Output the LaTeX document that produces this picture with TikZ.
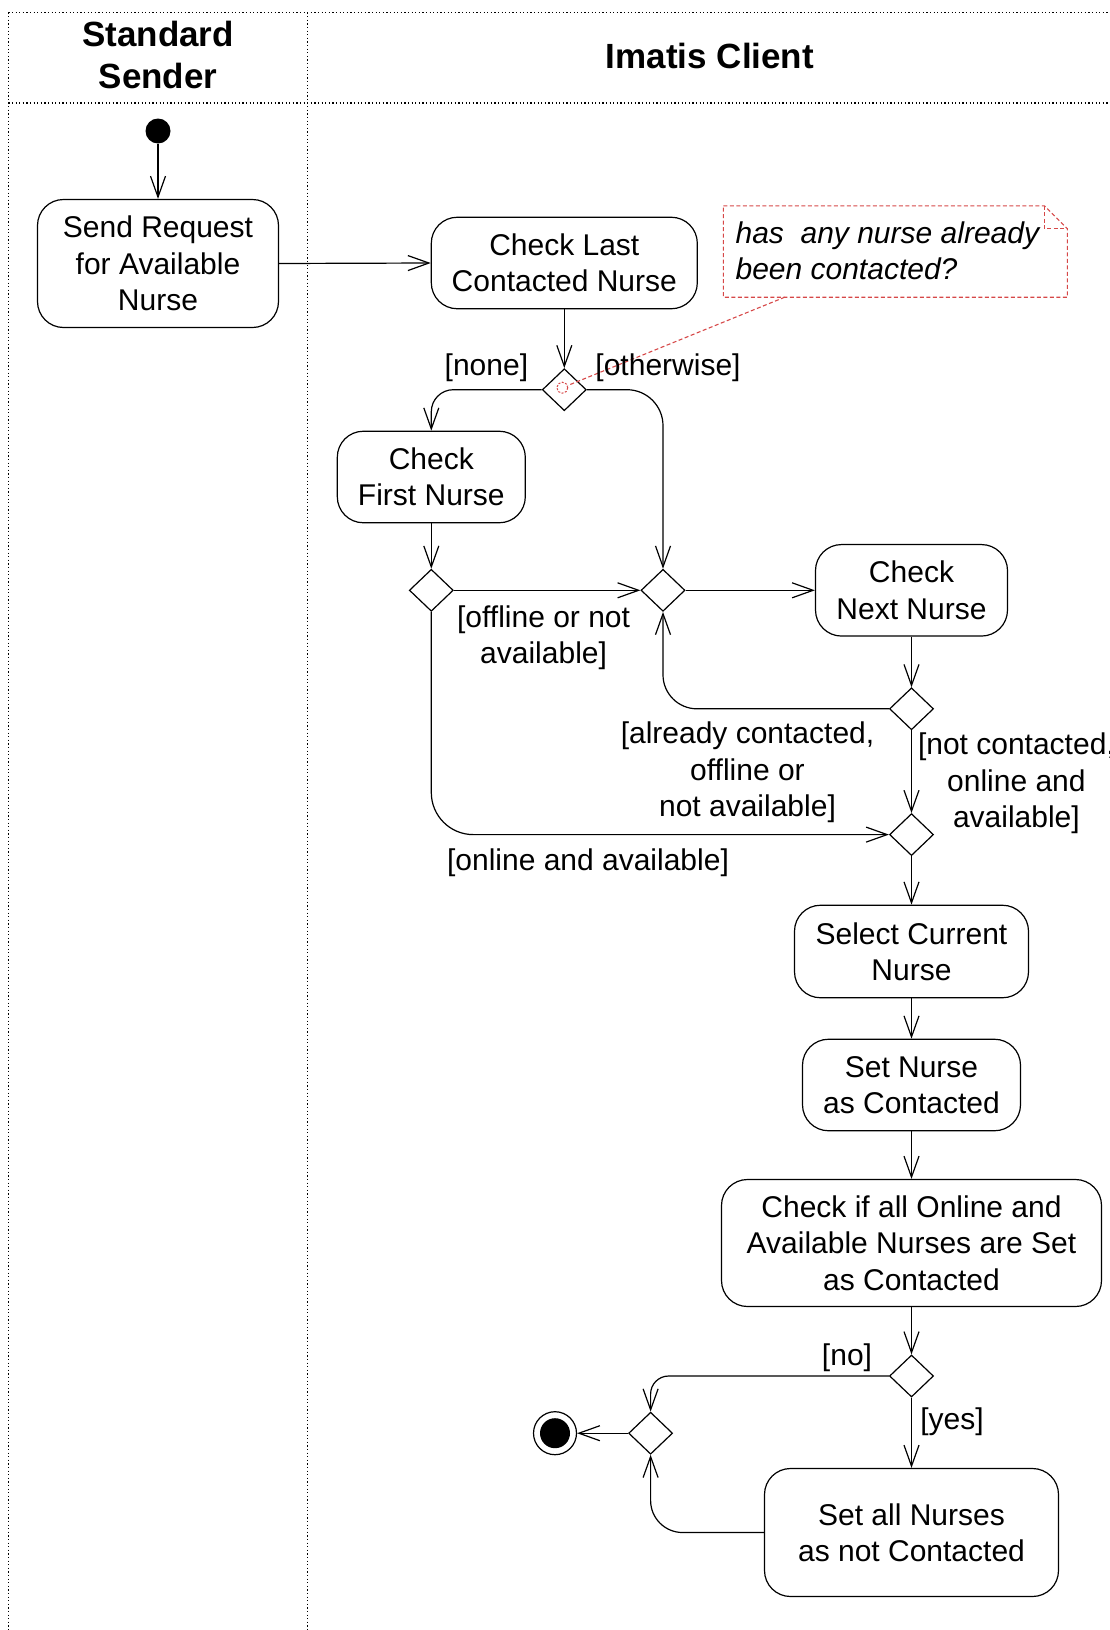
\documentclass[tikz,border=0pt]{standalone}
\usepackage{fontspec}
\setmainfont{Liberation Sans}
\usetikzlibrary{arrows.meta,shapes.geometric}
\definecolor{notered}{RGB}{214,72,72}
\tikzset{
 act/.style={draw, rounded corners=26pt, align=center, inner sep=0pt, font=\fontsize{30}{36.4}\selectfont},
 dec/.style={draw, diamond, minimum width=44pt, minimum height=42pt, inner sep=0pt},
 lbl/.style={align=center, inner sep=0pt, font=\fontsize{30}{36.4}\selectfont},
 flow/.style={-{Straight Barb[length=21pt,width=15pt]}},
 lane/.style={dash pattern=on 1.3pt off 2.3pt, line width=1.1pt},
 hdr/.style={align=center, inner sep=0pt, font=\fontsize{35}{41.6}\selectfont\bfseries},
 notestyle/.style={draw=notered, dash pattern=on 4pt off 2.5pt, line width=1.1pt}
}
\begin{document}
\begin{tikzpicture}[x=1pt,y=-1pt,line width=1.2pt]
\useasboundingbox (0,0) rectangle (1110,1630);
% swimlanes
\draw[lane] (8.3,12.5) -- (1110,12.5);
\draw[lane] (8.3,103) -- (1110,103);
\draw[lane] (8.3,12.5) -- (8.3,1630);
\draw[lane] (307.6,12.5) -- (307.6,1630);
\node[hdr] (h1) at (158,55) {Standard\\Sender};
\node[hdr] (h2) at (710,56) {Imatis Client};
% nodes
\node[circle, fill, minimum size=25pt, inner sep=0pt] (init) at (158,131) {};
\node[act, minimum width=241pt, minimum height=128pt] (send) at (158,263.5) {Send Request\\for Available\\Nurse};
\node[act, minimum width=266pt, minimum height=91.5pt] (last) at (564.3,263) {Check Last\\Contacted Nurse};
\node[dec] (d1) at (564.3,389.7) {};
\node[act, minimum width=188pt, minimum height=91.5pt] (first) at (431.3,477) {Check\\First Nurse};
\node[dec] (d2) at (431.3,590.3) {};
\node[dec] (d3) at (663,590.3) {};
\node[act, minimum width=192pt, minimum height=91.5pt] (next) at (911.5,590.3) {Check\\Next Nurse};
\node[dec] (d4) at (911.5,708.8) {};
\node[dec] (d5) at (911.5,834.6) {};
\node[act, minimum width=234pt, minimum height=92.5pt] (select) at (911.5,951.5) {Select Current\\Nurse};
\node[act, minimum width=218pt, minimum height=91.5pt] (setc) at (911.5,1085) {Set Nurse\\as Contacted};
\node[act, minimum width=380pt, minimum height=127pt] (checkall) at (911.5,1243) {Check if all Online and\\Available Nurses are Set\\as Contacted};
\node[dec] (d6) at (911.5,1376) {};
\node[act, minimum width=294pt, minimum height=128pt] (setall) at (911.5,1532.5) {Set all Nurses\\as not Contacted};
\node[dec] (d7) at (650.6,1433.2) {};
\node[circle, draw, minimum size=43pt, inner sep=0pt] (final) at (555,1433.2) {};
\fill (final.center) circle (15pt);
% note
\draw[notestyle] (723.4,205.8) -- (1044.4,205.8) -- (1067.4,228.8) -- (1067.4,297.2) -- (723.4,297.2) -- cycle;
\draw[notestyle] (1044.4,205.8) -- (1044.4,228.8) -- (1067.4,228.8);
\node[lbl, anchor=west, align=left, font=\fontsize{30}{36.4}\selectfont\itshape] (notetext) at (735,251) {has\ \ any nurse already\\been contacted?};
\node[circle, draw=notered, dash pattern=on 2pt off 1.5pt, line width=1pt, minimum size=11pt, inner sep=0pt] (ncirc) at (562.3,387.7) {};
\coordinate (noteb) at (784.7,297.2);
\draw[notestyle] (noteb) -- (ncirc);
% connectors
\draw[flow] (init) -- (send.north);
\draw[flow] (send.east) -- (last.west);
\draw[flow] (last.south) -- (d1.north);
\draw[flow, rounded corners=22pt] (d1.west) -| (first.north);
\draw[flow, rounded corners=36pt] (d1.east) -| (d3.north);
\draw[flow] (first.south) -- (d2.north);
\draw[flow] (d2.east) -- (d3.west);
\draw[flow] (d3.east) -- (next.west);
\draw[flow] (next.south) -- (d4.north);
\draw[flow, rounded corners=34pt] (d4.west) -| (d3.south);
\draw[flow] (d4.south) -- (d5.north);
\draw[flow, rounded corners=42pt] (d2.south) |- (d5.west);
\draw[flow] (d5.south) -- (select.north);
\draw[flow] (select.south) -- (setc.north);
\draw[flow] (setc.south) -- (checkall.north);
\draw[flow] (checkall.south) -- (d6.north);
\draw[flow, rounded corners=18pt] (d6.west) -| (d7.north);
\draw[flow] (d6.south) -- (setall.north);
\draw[flow, rounded corners=32pt] (setall.west) -| (d7.south);
\draw[flow] (d7.west) -- (final.east);
% labels
\node[lbl] (lnone) at (486.4,367.3) {[none]};
\node[lbl] (lother) at (668,367.3) {[otherwise]};
\node[lbl] (loff) at (543.6,637.5) {[offline or not\\available]};
\node[lbl] (lalready) at (747.5,772.5) {[already contacted,\\offline or\\not available]};
\node[lbl] (lnot) at (1016.4,783.5) {[not contacted,\\online and\\available]};
\node[lbl] (lonline) at (588,863) {[online and available]};
\node[lbl] (lno) at (847,1357.7) {[no]};
\node[lbl] (lyes) at (952,1422) {[yes]};
\end{tikzpicture}
\end{document}
